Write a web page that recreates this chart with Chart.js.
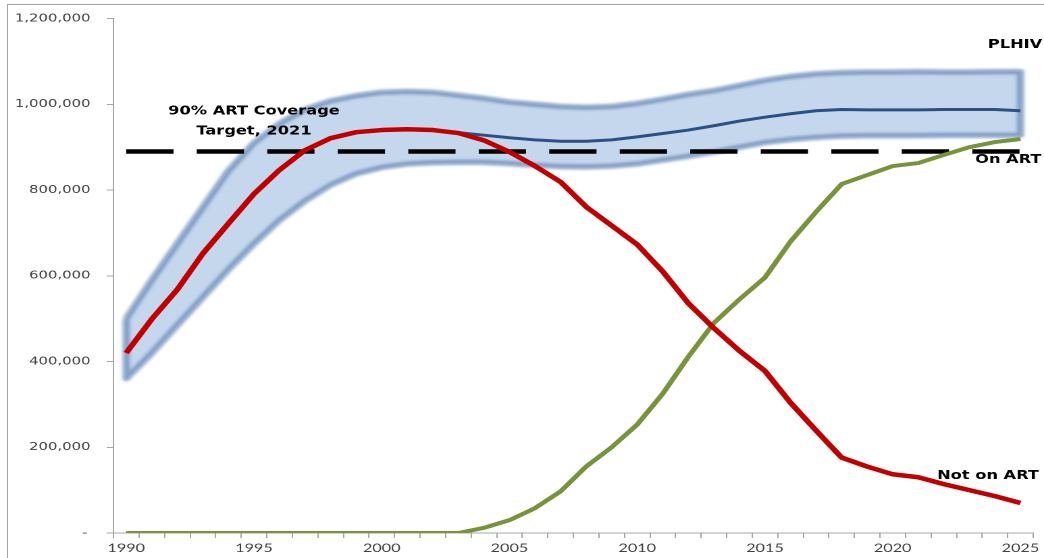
<!DOCTYPE html>
<html>
<head>
<meta charset="utf-8">
<script src="https://cdn.jsdelivr.net/npm/chart.js@4.4.1/dist/chart.umd.min.js"></script>
<style>
  html, body { margin: 0; padding: 0; background: #fff; overflow: hidden; }
  #frame { position: absolute; left: 7px; top: 4px; width: 1100px; height: 600px;
           border-left: 1px solid #a3a3a3; border-top: 1px solid #a3a3a3; }
  /* chart is laid out narrow and widened to the page width */
  #wrap { position: absolute; left: 0; top: 0; width: 773px; height: 558px;
          transform: scaleX(1.3506); transform-origin: 0 0; }
</style>
</head>
<body>
<div id="frame"></div>
<div id="wrap"><canvas id="myChart"></canvas></div>
<script>
var years = ['1990','1991','1992','1993','1994','1995','1996','1997','1998','1999',
             '2000','2001','2002','2003','2004','2005','2006','2007','2008','2009',
             '2010','2011','2012','2013','2014','2015','2016','2017','2018','2019',
             '2020','2021','2022','2023','2024','2025'];
var yearLabels = ['1990','1995','2000','2005','2010','2015','2020','2025'];

// people living with HIV, central estimate
var plhiv = [420000, 499000, 568000, 652000, 722000, 791000, 847000, 893000, 921000, 935000,
             940000, 942000, 940000, 934000, 928000, 922000, 917000, 914000, 914000, 917000,
             924000, 932000, 940000, 950000, 961000, 970000, 978000, 985000, 988000, 987000,
             987000, 987000, 988000, 988000, 988000, 985000];
// uncertainty range
var plhivHigh = [500000, 590000, 675000, 760000, 845000, 910000, 955000, 988000, 1008000, 1020000,
                 1028000, 1030000, 1028000, 1021000, 1014000, 1005000, 1000000, 995000, 993000, 995000,
                 1002000, 1012000, 1023000, 1032000, 1044000, 1056000, 1065000, 1071000, 1074000, 1075000,
                 1075000, 1076000, 1075000, 1075000, 1076000, 1076000];
var plhivLow = [360000, 420000, 485000, 550000, 615000, 675000, 730000, 775000, 812000, 838000,
                853000, 861000, 864000, 865000, 865000, 862000, 858000, 855000, 854000, 856000,
                861000, 870000, 879000, 889000, 900000, 911000, 918000, 923000, 926000, 927000,
                927000, 927000, 928000, 928000, 928000, 928000];
var onArt = [0, 0, 0, 0, 0, 0, 0, 0, 0, 0,
             0, 0, 0, 0, 12000, 30000, 58000, 97000, 155000, 200000,
             253000, 325000, 411000, 490000, 545000, 596000, 680000, 749000, 814000, 835000,
             856000, 863000, 882000, 900000, 912000, 919000];
var notOnArt = [420000, 499000, 568000, 652000, 722000, 791000, 847000, 893000, 921000, 935000,
                940000, 942000, 940000, 933000, 916000, 889000, 856000, 819000, 761000, 717000,
                673000, 610000, 536000, 478000, 425000, 378000, 304000, 239000, 176000, 155000,
                137000, 130000, 114000, 100000, 86000, 70000];
var artTarget = 890000;

// closed outline of the range: upper edge forward, lower edge back
var bandOutline = years.map(function (yr, i) {
    return {x: yr, y: plhivHigh[i]};
}).concat(years.slice().reverse().map(function (yr, i) {
    return {x: yr, y: plhivLow[years.length - 1 - i]};
}));
bandOutline.push(bandOutline[0]);

var bandGlow = {
    id: 'bandGlow',
    beforeDatasetDraw: function (chart, args) {
        if (chart.data.datasets[args.index].label === 'range') {
            chart.ctx.save();
            chart.ctx.filter = 'blur(2.5px)';
        }
    },
    afterDatasetDraw: function (chart, args) {
        if (chart.data.datasets[args.index].label === 'range') {
            chart.ctx.restore();
        }
    }
};

var seriesLabels = {
    id: 'seriesLabels',
    afterDatasetsDraw: function (chart) {
        var ctx = chart.ctx;
        var x = chart.scales.x, y = chart.scales.y;
        var last = years.length - 1;
        var ex = x.getPixelForValue(last);
        ctx.save();
        ctx.font = 'bold 12px "DejaVu Sans"';
        ctx.fillStyle = '#000';
        ctx.textAlign = 'center';
        ctx.textBaseline = 'middle';
        var tx = x.getPixelForValue(years.indexOf('1995'));
        var ty = y.getPixelForValue(artTarget);
        ctx.fillText('90% ART Coverage', tx, ty - 40);
        ctx.fillText('Target, 2021', tx, ty - 20);
        ctx.fillText('PLHIV', ex - 4, y.getPixelForValue(plhivHigh[last]) - 27);
        ctx.fillText('On ART', ex - 9, y.getPixelForValue(onArt[last]) + 21);
        ctx.fillText('Not on ART', ex - 24, y.getPixelForValue(notOnArt[last]) - 27);
        ctx.restore();
    }
};

const ctx = document.getElementById('myChart');

const data = {
    labels: years,
    datasets: [
        {
            label: 'Not on ART',
            data: notOnArt,
            borderColor: '#c00000',
            borderWidth: 4.5,
            order: 1,
        },
        {
            label: 'On ART',
            data: onArt,
            borderColor: '#77933c',
            borderWidth: 4,
            order: 2,
        },
        {
            label: 'PLHIV',
            data: plhiv,
            borderColor: '#2a5185',
            borderWidth: 3,
            order: 3,
        },
        {
            label: '90% ART Coverage Target, 2021',
            data: years.map(function () { return artTarget; }),
            borderColor: '#000',
            borderWidth: 4.5,
            borderDash: [35, 17.2],
            order: 4,
        },
        {
            label: 'range',
            data: bandOutline,
            fill: 'shape',
            backgroundColor: 'rgba(192,212,235,0.92)',
            borderColor: 'rgba(118,148,190,0.8)',
            borderWidth: 5.5,
            order: 5,
        },
    ],
};

const config = {
    type: 'line',
    data: data,
    plugins: [bandGlow, seriesLabels],
    options: {
        responsive: true,
        maintainAspectRatio: false,
        animation: false,
        devicePixelRatio: 2,
        layout: {
            padding: {left: 0, right: 8, top: 16, bottom: 0}
        },
        elements: {
            point: {radius: 0},
            line: {tension: 0, borderCapStyle: 'butt', borderJoinStyle: 'round'}
        },
        plugins: {
            legend: {display: false},
            tooltip: {enabled: false}
        },
        scales: {
            x: {
                offset: true,
                afterFit: function (scale) { scale.height = 25; },
                border: {color: '#a6a6a6', width: 1},
                grid: {offset: true, drawOnChartArea: false, drawTicks: true, tickLength: 5, color: '#a6a6a6'},
                ticks: {
                    autoSkip: false,
                    maxRotation: 0,
                    padding: 3,
                    color: '#404040',
                    font: {family: 'Lato', size: 12},
                    callback: function (value) {
                        var label = this.getLabelForValue(value);
                        return yearLabels.indexOf(label) >= 0 ? label : '';
                    }
                }
            },
            y: {
                min: 0,
                max: 1200000,
                afterFit: function (scale) { scale.width = 84; },
                border: {color: '#a6a6a6', width: 1},
                grid: {drawOnChartArea: false, drawTicks: true, tickLength: 5, color: '#a6a6a6'},
                ticks: {
                    stepSize: 200000,
                    padding: 12,
                    color: '#404040',
                    font: {family: 'DejaVu Sans', size: 11},
                    callback: function (value) {
                        return value === 0 ? '-\u2009' : value.toLocaleString('en-US');
                    }
                }
            }
        }
    },
};

var myChart = new Chart(ctx, config);
</script>
</body>
</html>
